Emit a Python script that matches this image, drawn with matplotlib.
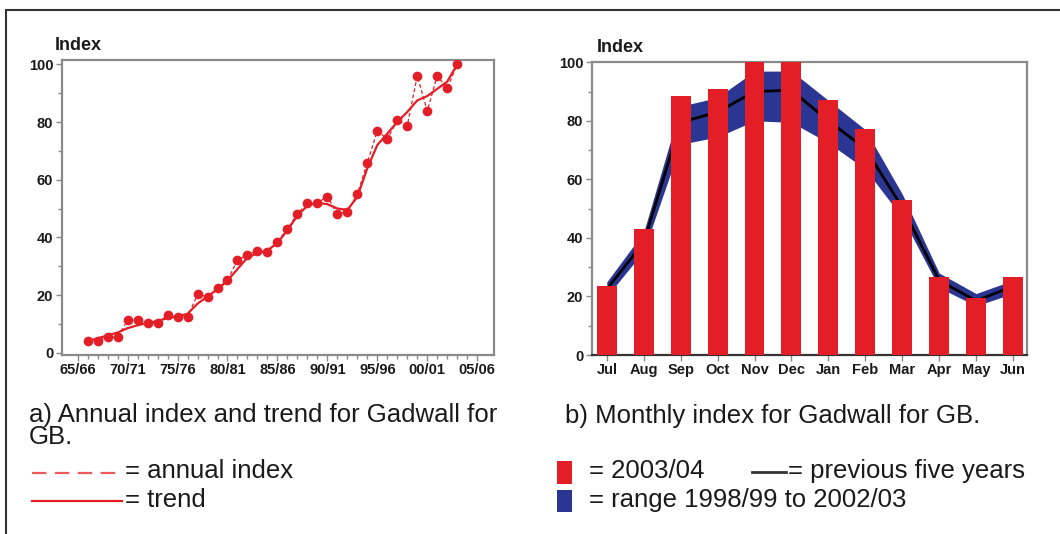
import matplotlib
matplotlib.use("Agg")
import matplotlib.pyplot as plt
from matplotlib.lines import Line2D
from matplotlib.patches import Rectangle
import numpy as np

plt.rcParams['font.family'] = ['Liberation Sans', 'DejaVu Sans']

# ---------------- data ----------------
# Panel a: annual index (seasons 66/67 .. 03/04), index 0 = 65/66
seasons = list(range(1, 39))
annual_index = [4.2, 4.2, 5.3, 5.3, 11.3, 11.3, 10.2, 10.2, 13.0, 12.3,
                12.3, 20.2, 19.4, 22.3, 25.2, 32.1, 33.9, 35.4, 35.0, 38.4,
                43.0, 48.1, 52.0, 52.0, 54.1, 48.1, 48.9, 55.0, 65.9, 77.0,
                74.0, 80.7, 78.7, 96.0, 83.8, 96.0, 91.7, 100.0]
trend = [4.0, 5.0, 6.0, 7.0, 8.5, 9.5, 10.3, 11.0, 12.0, 12.6,
         13.5, 17.0, 19.5, 22.0, 25.0, 29.0, 33.0, 34.5, 35.5, 38.0,
         42.5, 47.5, 51.0, 52.0, 51.5, 50.0, 49.5, 54.0, 64.0, 72.0,
         76.0, 80.0, 83.5, 87.5, 89.0, 91.5, 94.0, 100.0]
year_ticks = [0, 5, 10, 15, 20, 25, 30, 35, 40]
year_labels = ['65/66', '70/71', '75/76', '80/81', '85/86', '90/91',
               '95/96', '00/01', '05/06']

# Panel b: monthly index
months = ['Jul', 'Aug', 'Sep', 'Oct', 'Nov', 'Dec', 'Jan', 'Feb', 'Mar',
          'Apr', 'May', 'Jun']
index_2003 = [23.6, 42.9, 88.5, 91.0, 100.0, 100.0, 87.0, 77.1, 52.8,
              26.8, 19.6, 26.7]
prev_mean = [22.5, 38.5, 79.5, 83.0, 90.0, 90.5, 80.0, 70.5, 50.5,
             25.5, 18.5, 23.5]
range_low = [20.0, 35.5, 72.0, 74.5, 80.0, 79.5, 72.5, 63.5, 47.0,
             23.0, 16.8, 21.0]
range_high = [25.0, 42.0, 85.0, 88.0, 97.0, 97.0, 87.0, 77.0, 55.0,
              28.0, 21.0, 25.5]

RED = '#e31e26'
NAVY = '#2b3592'
GRAY = '#8a8a8a'
TXT = '#1a1a1a'
FS = 18.5

fig = plt.figure(figsize=(10.6, 5.34), dpi=100)


def fx(px):
    return px / 1060


def fy(py):
    return 1 - py / 534


# outer frame lines (top and left)
fig.add_artist(Line2D([fx(6), 1.0], [fy(10), fy(10)],
                      transform=fig.transFigure, color='#333333', lw=1.5))
fig.add_artist(Line2D([fx(6), fx(6)], [0, fy(10)],
                      transform=fig.transFigure, color='#333333', lw=1.5))

# ---------------- panel a ----------------
ax1 = fig.add_axes([0.0582, 0.3352, 0.408, 0.5524])
ax1.plot(seasons, trend, color=RED, lw=1.6, zorder=2)
ax1.plot(seasons, annual_index, color=RED, lw=0.9, ls=(0, (3, 2)),
         marker='o', markersize=7, markeredgewidth=0, zorder=3)
ax1.set_xlim(-1.6, 41.7)
ax1.set_ylim(-0.8, 101.5)
ax1.set_xticks(year_ticks)
ax1.set_xticklabels(year_labels)
ax1.set_xticks(range(0, 41), minor=True)
ax1.set_yticks([0, 20, 40, 60, 80, 100])
ax1.set_yticks(range(10, 100, 20), minor=True)

# ---------------- panel b ----------------
ax2 = fig.add_axes([0.5582, 0.3352, 0.4107, 0.5481])
x = np.arange(len(months))
ax2.fill_between(x, range_low, range_high, color=NAVY, lw=0, zorder=1)
ax2.plot(x, prev_mean, color='black', lw=2.0, zorder=2)
ax2.bar(x, index_2003, width=0.54, color=RED, zorder=3)
ax2.set_xlim(-0.41, 11.38)
ax2.set_ylim(0, 100)
ax2.set_xticks(x)
ax2.set_xticklabels(months)
ax2.set_yticks([0, 20, 40, 60, 80, 100])
ax2.set_yticks(range(10, 100, 20), minor=True)

for ax in (ax1, ax2):
    for s in ax.spines.values():
        s.set_color(GRAY)
        s.set_linewidth(1.6)
    ax.tick_params(which='both', direction='out', color=GRAY, width=1.0,
                   labelsize=10.5, pad=2)
    ax.tick_params(which='major', length=4)
    ax.tick_params(which='minor', length=3)
    for lab in ax.get_xticklabels() + ax.get_yticklabels():
        lab.set_fontweight('bold')
        lab.set_color(TXT)
ax2.spines['bottom'].set_color('#333333')

# Index labels
fig.text(fx(55), fy(46), 'Index', fontsize=13, fontweight='bold',
         va='center', ha='left', color=TXT)
fig.text(fx(597), fy(47), 'Index', fontsize=13, fontweight='bold',
         va='center', ha='left', color=TXT)

# captions
fig.text(fx(29), fy(415), 'a) Annual index and trend for Gadwall for',
         fontsize=FS, va='center', ha='left', color=TXT)
fig.text(fx(29), fy(437), 'GB.',
         fontsize=FS, va='center', ha='left', color=TXT)
fig.text(fx(565), fy(416), 'b) Monthly index for Gadwall for GB.',
         fontsize=FS, va='center', ha='left', color=TXT)

# legend a
fig.add_artist(Line2D([fx(32), fx(122)], [fy(473)] * 2,
                      transform=fig.transFigure, color='#f05a5a', lw=1.6,
                      ls=(0, (6.5, 3.8))))
fig.text(fx(125), fy(471), '= annual index', fontsize=FS,
         va='center', ha='left', color=TXT)
fig.add_artist(Line2D([fx(32), fx(122)], [fy(501)] * 2,
                      transform=fig.transFigure, color=RED, lw=1.6))
fig.text(fx(125), fy(500), '= trend', fontsize=FS,
         va='center', ha='left', color=TXT)

# legend b
fig.add_artist(Rectangle((fx(557), fy(484)), fx(15), 23 / 534,
                         transform=fig.transFigure, color=RED, lw=0))
fig.text(fx(589), fy(471), '= 2003/04', fontsize=FS,
         va='center', ha='left', color=TXT)
fig.add_artist(Line2D([fx(752), fx(786)], [fy(472)] * 2,
                      transform=fig.transFigure, color='#333333', lw=2))
fig.text(fx(788), fy(471), '= previous five years', fontsize=FS,
         va='center', ha='left', color=TXT)
fig.add_artist(Rectangle((fx(557), fy(512)), fx(15), 22 / 534,
                         transform=fig.transFigure, color=NAVY, lw=0))
fig.text(fx(589), fy(500), '= range 1998/99 to 2002/03', fontsize=FS,
         va='center', ha='left', color=TXT)

fig.savefig('out.png', dpi=100)
